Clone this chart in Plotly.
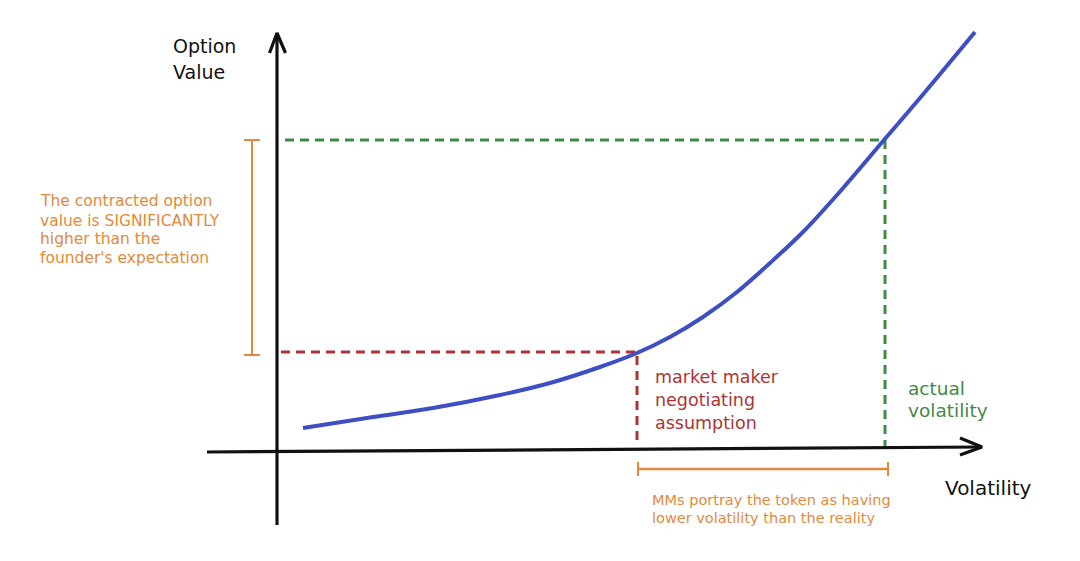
import plotly.graph_objects as go

# ---- data (units: volatility / option value, arbitrary) ----
curve_vol = [2.6, 9.0, 15.6, 22.3, 27.3, 32.3, 36.0, 39.3, 42.6, 46.0, 49.3, 52.6, 56.0, 60.7, 64.3, 69.8]
curve_val = [2.3, 3.3, 4.3, 5.6, 6.8, 8.4, 9.8, 11.4, 13.4, 15.9, 18.8, 21.9, 25.6, 31.1, 35.3, 41.9]

mm_vol = 36.0          # market maker negotiating assumption
mm_val = 9.9
actual_vol = 60.7      # actual volatility
actual_val = 31.1

x_axis_x = [-7.0, 70.5]
x_axis_y = [-0.1, 0.4]
y_axis_x = [0.0, 0.0]
y_axis_y = [-7.4, 41.8]

BLUE = "#3d4fc2"
RED = "#ad3434"
GREEN = "#3f8a45"
ORANGE = "#df8a3c"
BLACK = "#111111"
FONT = "DejaVu Sans"

fig = go.Figure()

def line(xs, ys, color, width, dash=None, shape="linear"):
    fig.add_trace(go.Scatter(x=xs, y=ys, mode="lines", hoverinfo="skip",
                             line=dict(color=color, width=width, dash=dash, shape=shape),
                             showlegend=False))

# axes
line(x_axis_x, x_axis_y, BLACK, 3.2)
line([x_axis_x[1] - 2.2, x_axis_x[1], x_axis_x[1] - 2.2],
     [x_axis_y[1] + 0.9, x_axis_y[1], x_axis_y[1] - 0.8], BLACK, 3.2)
line(y_axis_x, y_axis_y, BLACK, 3.2)
line([-0.75, 0.0, 0.85], [y_axis_y[1] - 2.0, y_axis_y[1], y_axis_y[1] - 2.0], BLACK, 3.2)

# reference dashed lines
line([0.4, mm_vol, mm_vol], [mm_val, mm_val, 0.5], RED, 3, dash="9px,6px")
line([0.8, actual_vol + 0.1, actual_vol + 0.1], [actual_val, actual_val, 0.5], GREEN, 3, dash="9px,6px")

# curve
line(curve_vol, curve_val, BLUE, 4, shape="spline")

# brackets
bx = -2.5
line([bx, bx], [actual_val, mm_val - 0.3], ORANGE, 2)
line([bx - 0.8, bx + 0.8], [actual_val, actual_val], ORANGE, 2)
line([bx - 0.8, bx + 0.8], [mm_val - 0.3, mm_val - 0.3], ORANGE, 2)
by = -1.8
line([mm_vol + 0.1, actual_vol + 0.4], [by, by], ORANGE, 2.5)
line([mm_vol + 0.1, mm_vol + 0.1], [by + 0.7, by - 0.7], ORANGE, 2)
line([actual_vol + 0.4, actual_vol + 0.4], [by + 0.7, by - 0.7], ORANGE, 2)

def text(x, ys, lines, color, size):
    for y, s in zip(ys, lines):
        fig.add_annotation(x=x, y=y, text=s, showarrow=False, xanchor="left", yanchor="middle",
                           align="left", font=dict(family=FONT, size=size, color=color))

text(-10.6, [40.5, 37.9], ["Option", "Value"], BLACK, 19)
text(-23.9, [25.0, 23.0, 21.2, 19.3],
     ["The contracted option", "value is SIGNIFICANTLY", "higher than the", "founder's expectation"],
     ORANGE, 15.5)
text(37.6, [7.4, 5.1, 2.8], ["market maker", "negotiating", "assumption"], RED, 17.5)
text(62.9, [6.3, 4.1], ["actual", "volatility"], GREEN, 18.5)
text(66.6, [-3.7], ["Volatility"], BLACK, 20)
text(37.3, [-4.9, -6.7], ["MMs portray the token as having", "lower volatility than the reality"], ORANGE, 14.5)

# the page body adds an 8px offset, so ranges are shifted to keep 10 px per unit
fig.update_layout(
    width=1080, height=561,
    margin=dict(l=0, r=0, t=0, b=0),
    paper_bgcolor="white", plot_bgcolor="white",
    xaxis=dict(range=[-26.9, 81.1], visible=False, fixedrange=True),
    yaxis=dict(range=[-11.8, 44.3], visible=False, fixedrange=True),
    showlegend=False,
)

fig.write_html("out.html")
